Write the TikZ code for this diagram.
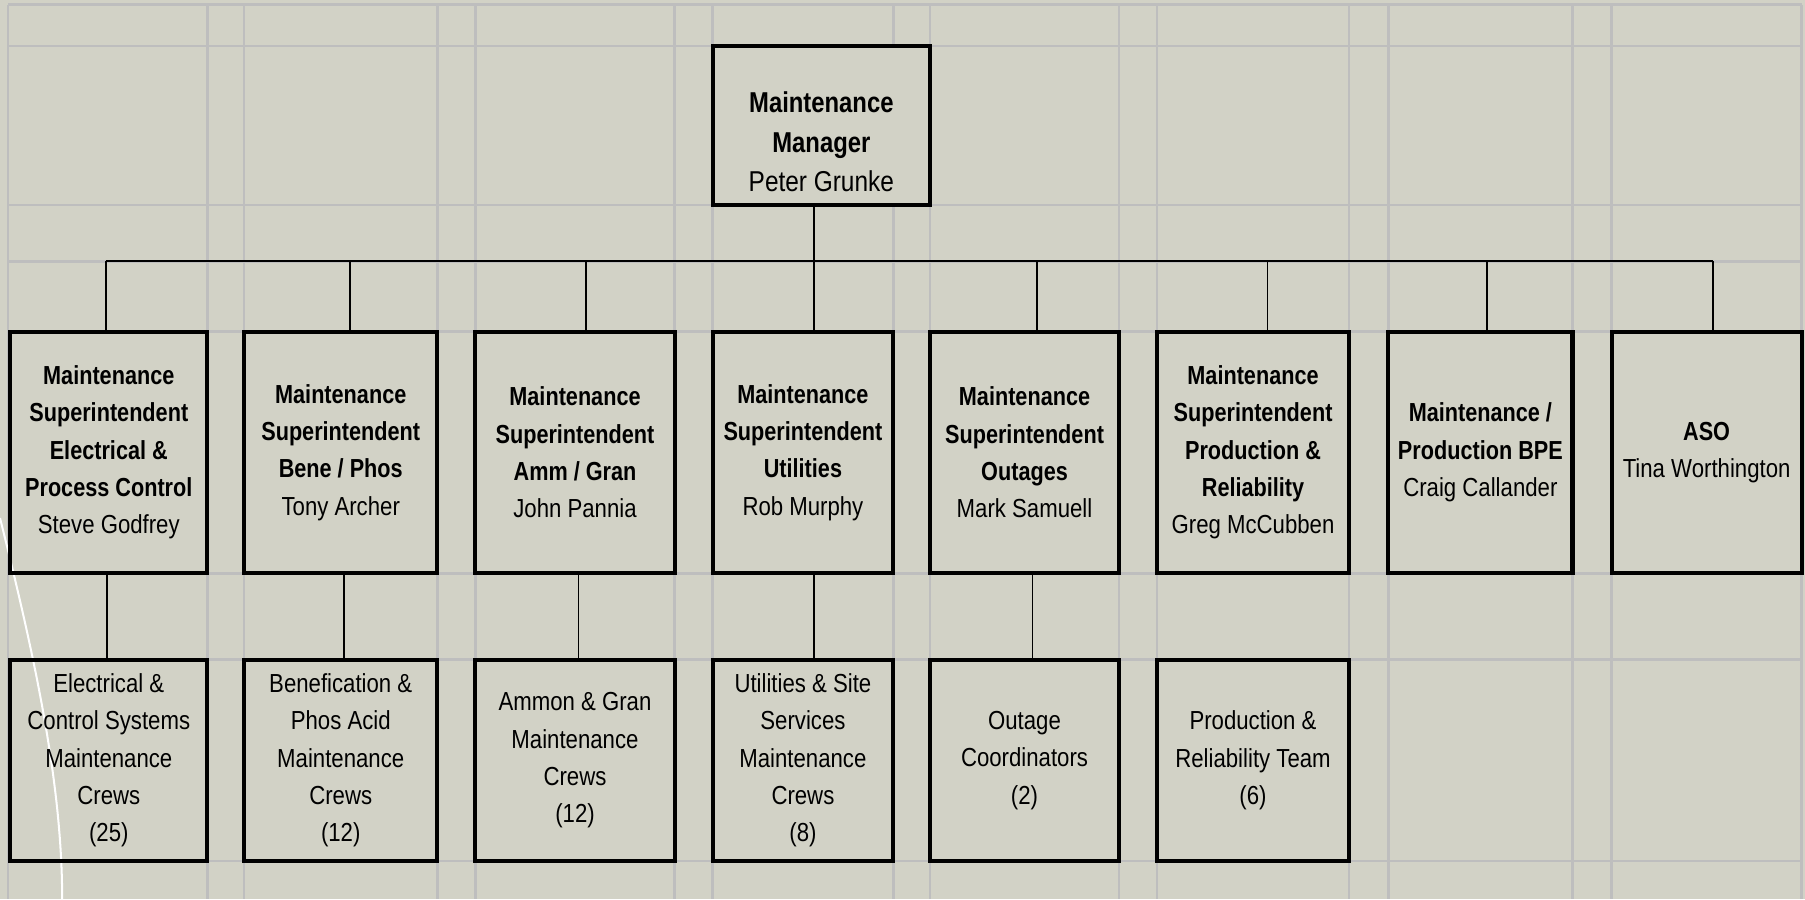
\documentclass[tikz,border=0pt]{standalone}
\usepackage{fontspec}
\setmainfont{Liberation Sans}[FakeStretch=0.85,BoldFeatures={FakeStretch=0.83}]
\usetikzlibrary{positioning, backgrounds}

\definecolor{paper}{RGB}{210,210,198}
\definecolor{gridgray}{RGB}{190,190,190}

\tikzset{
    post/.style={draw, line width=0.7mm, align=center, inner sep=0pt,
        font=\fontsize{12.9pt}{18.5pt}\selectfont},
    boss/.style={post, font=\fontsize{14.2pt}{19.6pt}\selectfont},
    link/.style={line width=0.3mm},
    gridline/.style={draw=gridgray, line width=0.45mm},
}

\begin{document}
\begin{tikzpicture}[x=0.2mm, y=-0.2mm]
    \useasboundingbox (0,0) rectangle (1568,781);

    % Manager
    \node[boss, minimum width=37.8mm, minimum height=27.6mm] (mgr) at (713.5,109)
        {\rule{0pt}{2.5mm}\\\textbf{Maintenance}\\\textbf{Manager}\\Peter Grunke};

    % Superintendents
    \node[post, minimum width=34.2mm, minimum height=42mm] (s1) at (94.5,393)
        {\textbf{Maintenance}\\\textbf{Superintendent}\\\textbf{Electrical \&}\\\textbf{Process Control}\\Steve Godfrey};
    \node[post, minimum width=33.6mm, minimum height=42mm] (s2) at (296,393)
        {\textbf{Maintenance}\\\textbf{Superintendent}\\\textbf{Bene / Phos}\\Tony Archer};
    \node[post, minimum width=34.6mm, minimum height=42mm] (s3) at (499.5,393)
        {\textbf{Maintenance}\\\textbf{Superintendent}\\\textbf{Amm / Gran}\\John Pannia};
    \node[post, minimum width=31.4mm, minimum height=42mm] (s4) at (697.5,393)
        {\textbf{Maintenance}\\\textbf{Superintendent}\\\textbf{Utilities}\\Rob Murphy};
    \node[post, minimum width=32.8mm, minimum height=42mm] (s5) at (890,393)
        {\textbf{Maintenance}\\\textbf{Superintendent}\\\textbf{Outages}\\Mark Samuell};
    \node[post, minimum width=33.4mm, minimum height=42mm] (s6) at (1088.5,393)
        {\textbf{Maintenance}\\\textbf{Superintendent}\\\textbf{Production \&}\\\textbf{Reliability}\\Greg McCubben};
    \node[post, minimum width=32mm, minimum height=42mm] (s7) at (1286,393)
        {\textbf{Maintenance /}\\\textbf{Production BPE}\\Craig Callander};
    \node[post, minimum width=33mm, minimum height=42mm] (s8) at (1482.5,393)
        {\textbf{ASO}\\Tina Worthington};

    % Crews
    \node[post, minimum width=34.2mm, minimum height=35mm] (c1) at (94.5,660.5)
        {Electrical \&\\Control Systems\\Maintenance\\Crews\\(25)};
    \node[post, minimum width=33.6mm, minimum height=35mm] (c2) at (296,660.5)
        {Benefication \&\\Phos Acid\\Maintenance\\Crews\\(12)};
    \node[post, minimum width=34.6mm, minimum height=35mm] (c3) at (499.5,660.5)
        {Ammon \& Gran\\Maintenance\\Crews\\(12)};
    \node[post, minimum width=31.4mm, minimum height=35mm] (c4) at (697.5,660.5)
        {Utilities \& Site\\Services\\Maintenance\\Crews\\(8)};
    \node[post, minimum width=32.8mm, minimum height=35mm] (c5) at (890,660.5)
        {Outage\\Coordinators\\(2)};
    \node[post, minimum width=33.4mm, minimum height=35mm] (c6) at (1088.5,660.5)
        {Production \&\\Reliability Team\\(6)};

    % Reporting lines
    \coordinate (bus) at (0,227);
    \draw[link] ([xshift=-1.3mm]mgr.south) -- ([xshift=-1.3mm]mgr.south |- bus);
    \draw[link] ([xshift=-0.5mm]s1.north |- bus) -- ([xshift=1.1mm]s8.north |- bus);
    \foreach \b/\dx in {s1/-0.5, s2/1.6, s3/1.9, s4/1.9, s5/2.2, s6/2.5, s7/1.2, s8/1.1}
        \draw[link] ([xshift=\dx mm]\b.north) -- ([xshift=\dx mm]\b.north |- bus);
    \foreach \u/\l/\dx in {s1/c1/-0.3, s2/c2/0.6, s3/c3/0.6, s4/c4/1.9, s5/c5/1.4}
        \draw[link] ([xshift=\dx mm]\u.south) -- ([xshift=\dx mm]\u.south |- \l.north);

    % Sheet, grid and box fills
    \begin{scope}[on background layer]
        \fill[paper] (0,0) rectangle (1568,781);
        \foreach \gx in {7,180,212,380,413,586,619,776,808,972,1005,1172,1206,1366,1400,1565}
            \draw[gridline] (\gx,4) -- (\gx,781);
        \foreach \gy in {4,40,178,227,288,498,573,748}
            \draw[gridline] (7,\gy) -- (1565,\gy);
        \foreach \n in {mgr,s1,s2,s3,s4,s5,s6,s7,s8,c1,c2,c3,c4,c5,c6}
            \fill[paper] (\n.north west) rectangle (\n.south east);
        \draw[white, line width=0.35mm] (0,450) .. controls (30,570) and (54,680) .. (54,781);
    \end{scope}
\end{tikzpicture}
\end{document}
